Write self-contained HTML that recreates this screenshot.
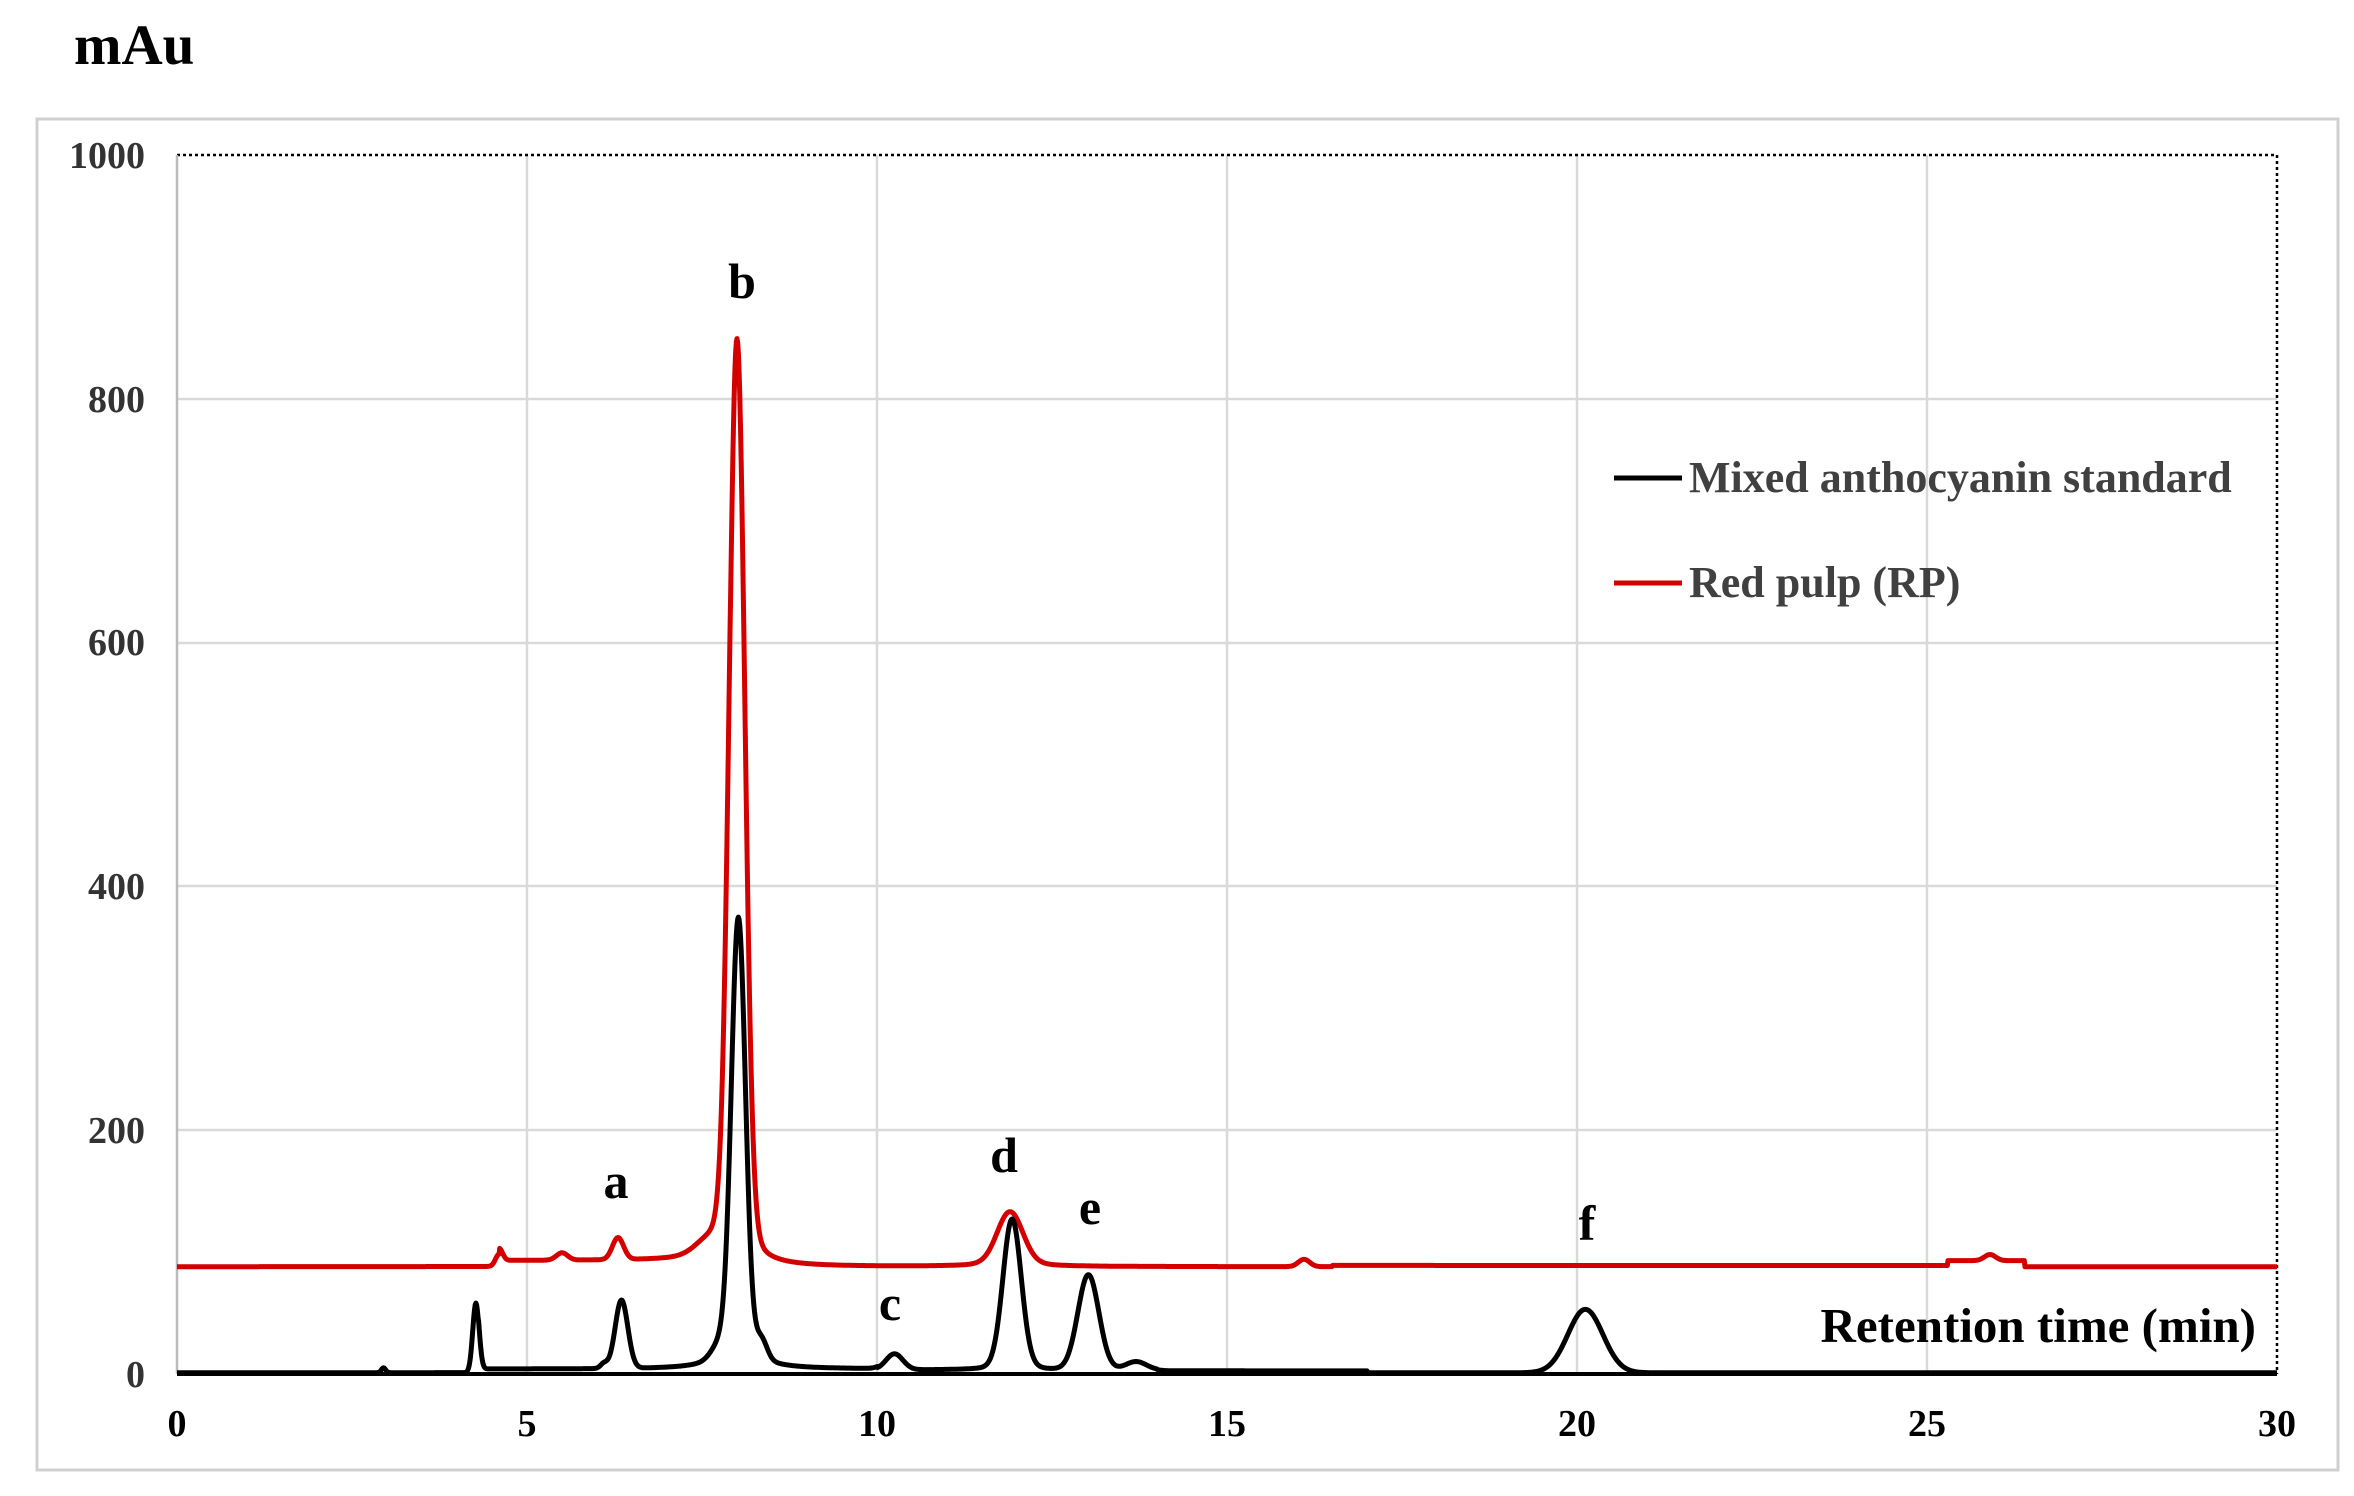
<!DOCTYPE html>
<html><head><meta charset="utf-8">
<style>
html,body{margin:0;padding:0;background:#fff;}
svg{display:block;}
</style></head>
<body>
<svg id="s" width="2354" height="1496" viewBox="0 0 2354 1496" xmlns="http://www.w3.org/2000/svg" font-family="'Liberation Serif', serif">
<rect x="0" y="0" width="2354" height="1496" fill="#fff"/>
<text x="74" y="64" font-size="57" font-weight="bold" fill="#000">mAu</text>
<rect x="37" y="119" width="2301" height="1351" fill="none" stroke="#d0d0d0" stroke-width="3"/>
<g stroke="#d9d9d9" stroke-width="2.5">
<line x1="527" y1="155" x2="527" y2="1374"/>
<line x1="877" y1="155" x2="877" y2="1374"/>
<line x1="1227" y1="155" x2="1227" y2="1374"/>
<line x1="1577" y1="155" x2="1577" y2="1374"/>
<line x1="1927" y1="155" x2="1927" y2="1374"/>
<line x1="177" y1="1130" x2="2277" y2="1130"/>
<line x1="177" y1="886" x2="2277" y2="886"/>
<line x1="177" y1="643" x2="2277" y2="643"/>
<line x1="177" y1="399" x2="2277" y2="399"/>
</g>
<line x1="177" y1="155" x2="2277" y2="155" stroke="#000" stroke-width="2.5" stroke-dasharray="3,3"/>
<line x1="2277" y1="155" x2="2277" y2="1374" stroke="#000" stroke-width="2.5" stroke-dasharray="3,3"/>
<line x1="177" y1="155" x2="177" y2="1374" stroke="#bbb" stroke-width="2.5"/>
<g font-size="38" fill="#333" text-anchor="end" font-weight="bold">
<text x="145" y="168">1000</text>
<text x="145" y="412">800</text>
<text x="145" y="655">600</text>
<text x="145" y="899">400</text>
<text x="145" y="1143">200</text>
<text x="145" y="1387">0</text>
</g>
<g font-size="38" fill="#000" text-anchor="middle" font-weight="bold">
<text x="177" y="1436">0</text>
<text x="527" y="1436">5</text>
<text x="877" y="1436">10</text>
<text x="1227" y="1436">15</text>
<text x="1577" y="1436">20</text>
<text x="1927" y="1436">25</text>
<text x="2277" y="1436">30</text>
</g>
<path id="red" fill="none" stroke="#d40000" stroke-width="5" stroke-linejoin="round"/>
<path id="blk" fill="none" stroke="#000" stroke-width="5" stroke-linejoin="round"/>
<line x1="177" y1="1374" x2="2277" y2="1374" stroke="#000" stroke-width="4"/>
<line x1="1614" y1="478" x2="1682" y2="478" stroke="#000" stroke-width="5"/>
<line x1="1614" y1="583" x2="1682" y2="583" stroke="#d40000" stroke-width="5"/>
<g font-size="44" fill="#404040" font-weight="bold">
<text x="1689" y="492">Mixed anthocyanin standard</text>
<text x="1689" y="597">Red pulp (RP)</text>
</g>
<text x="2256" y="1342" font-size="49" font-weight="bold" text-anchor="end" fill="#000">Retention time (min)</text>
<g font-size="50" font-weight="bold" fill="#000" text-anchor="middle">
<text x="742" y="298">b</text>
<text x="616" y="1198">a</text>
<text x="890" y="1320">c</text>
<text x="1004" y="1172">d</text>
<text x="1090" y="1224">e</text>
<text x="1587" y="1240">f</text>
</g>
</svg>
<script>
function X(t){return 177+t*70;}
function Y(v){return 1374-v*1.219;}
function g(t,c,h,s){var d=(t-c)/s;return h*Math.exp(-0.5*d*d);}
function L(t,c,h,w){var d=(t-c)/w;return h/(1+d*d);}
function st(t,a,b){return (t>a&&t<b)?1:0;}
var b=[],r=[];
for(var t=0;t<=30.0001;t+=0.01){
 var vb=1+3*st(t,4.3,10)+2*st(t,10,14)+1.5*st(t,14,17);
 vb+=g(t,2.95,4,0.03);
 vb+=g(t,4.27,57,0.045);
 vb+=g(t,6.35,56,0.09)+g(t,6.1,4,0.05);
 vb+=g(t,8.02,340,0.1)+L(t,8.02,30,0.25)+g(t,8.35,15,0.08)+g(t,7.75,10,0.12);
 vb+=g(t,10.25,13,0.12);
 vb+=g(t,11.93,118,0.13)+L(t,11.93,6,0.3);
 vb+=g(t,13.02,78,0.15)+g(t,13.7,7,0.15);
 vb+=g(t,20.12,52,0.25);
 var vr=88+5*st(t,4.6,7.9)+1*st(t,16.5,26.4)+4*st(t,25.3,26.4);
 vr+=g(t,4.6,10,0.05)+g(t,5.5,6,0.08);
 vr+=g(t,6.3,18,0.08);
 vr+=g(t,8.0,705,0.11)+L(t,8.0,55,0.22)+g(t,7.6,10,0.2);
 vr+=g(t,11.9,40,0.18)+L(t,11.9,5,0.4);
 vr+=g(t,16.1,6,0.08)+g(t,25.9,5,0.08);
 b.push(X(t).toFixed(1)+","+Y(vb).toFixed(1));
 r.push(X(t).toFixed(1)+","+Y(vr).toFixed(1));
}
document.getElementById("blk").setAttribute("d","M"+b.join("L"));
document.getElementById("red").setAttribute("d","M"+r.join("L"));
</script>
</body></html>
